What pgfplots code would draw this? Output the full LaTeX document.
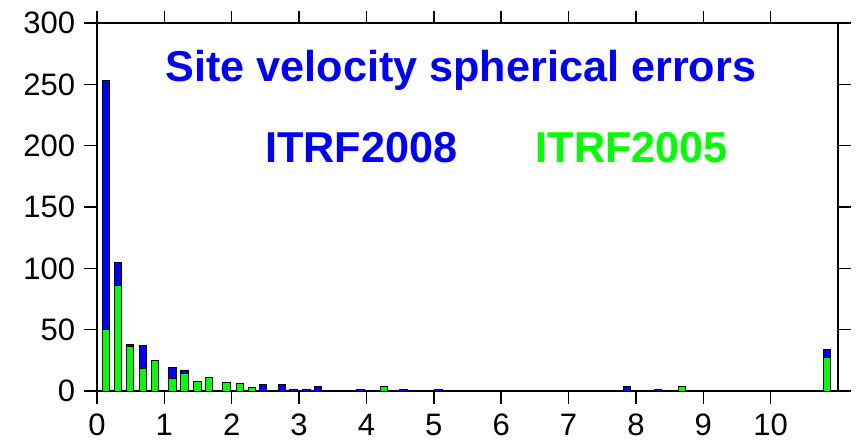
\documentclass[border=0pt]{standalone}
\usepackage{fontspec}
\setmainfont{Liberation Sans}
\usepackage{pgfplots}
\usepackage{pgfplotstable}
\pgfplotsset{compat=1.18}
\definecolor{myblue}{RGB}{0,0,255}
\definecolor{mygreen}{RGB}{0,255,0}
\pgfplotstableread{
x y
0.13 253
0.31 105
0.49 38
0.68 37
0.86 24
1.12 19
1.30 17
1.49 7
1.66 10
1.92 5
2.12 5
2.30 2
2.46 5
2.745 5
2.92 1.5
3.11 1
3.28 4
3.91 1
4.55 1
5.07 1
7.87 3.5
8.33 1
10.84 34
}\itrfA
\pgfplotstableread{
x y
0.13 50
0.31 86
0.49 36
0.68 18
0.86 25
1.12 10
1.30 14
1.49 8
1.66 11
1.92 7
2.12 6
2.30 3
4.26 3.5
8.68 3.5
10.84 27
}\itrfB
\begin{document}
\begin{tikzpicture}
\begin{axis}[
  name=ax,
  scale only axis, width=370.5pt, height=184pt,
  xmin=0, xmax=11, ymin=0, ymax=300,
  xtick={0,1,...,10}, ytick={0,50,...,300},
  tick pos=both,
  tick align=outside, major tick length=6.25pt,
  tick style={black, line width=0.75pt},
  axis line style={line width=0.75pt},
  ticklabel style={font=\fontsize{15.5}{18}\selectfont},
  xticklabel style={yshift=-1.8pt},
  yticklabel style={xshift=-1.2pt},
  /pgf/number format/assume math mode=true,
  clip=false,
]
\addplot[ybar, bar width=0.11, bar shift=0pt, fill=myblue, draw=black, line width=0.5pt] table[x=x,y=y] {\itrfA};
\addplot[ybar, bar width=0.11, bar shift=0pt, fill=mygreen, draw=black, line width=0.5pt] table[x=x,y=y] {\itrfB};
\node[anchor=base, text=myblue, font=\bfseries\fontsize{21.6}{24}\selectfont] at (axis cs:5.40,252.6) {Site velocity spherical errors};
\node[anchor=base, text=myblue, font=\bfseries\fontsize{21.6}{24}\selectfont] at (axis cs:3.92,186.2) {ITRF2008};
\node[anchor=base, text=mygreen, font=\bfseries\fontsize{21.6}{24}\selectfont] at (axis cs:7.94,186.2) {ITRF2005};
\end{axis}
\pgfresetboundingbox
\path ([shift={(-48.5pt,-27pt)}]ax.south west) rectangle ([shift={(9.5pt,11.5pt)}]ax.north east);
\end{tikzpicture}
\end{document}
